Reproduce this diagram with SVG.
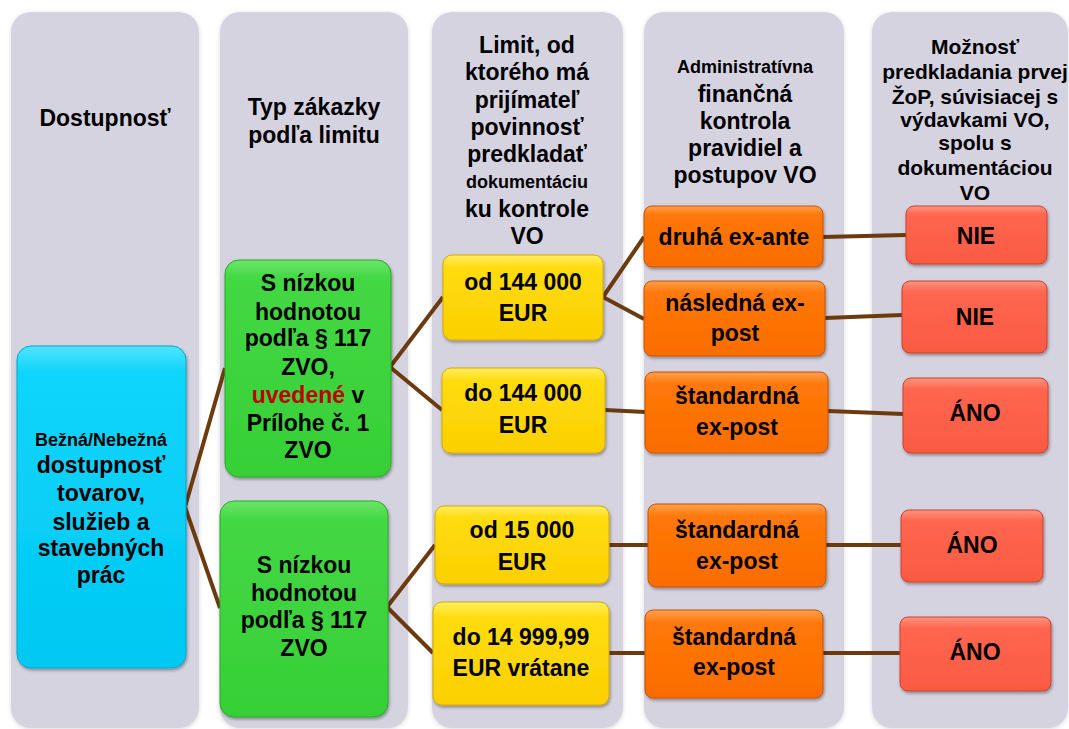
<svg xmlns="http://www.w3.org/2000/svg" width="1069" height="729" viewBox="0 0 1069 729">
<defs>
<filter id="sh" x="-10%" y="-10%" width="125%" height="130%"><feDropShadow dx="1" dy="2" stdDeviation="1.5" flood-color="#000" flood-opacity="0.35"/></filter>
<filter id="csh" x="-5%" y="-5%" width="110%" height="110%"><feDropShadow dx="0" dy="1" stdDeviation="2" flood-color="#000" flood-opacity="0.15"/></filter>
<linearGradient id="gb" x1="0" y1="0" x2="0" y2="1"><stop offset="0" stop-color="#52e4ff"/><stop offset="0.08" stop-color="#0fd5fb"/><stop offset="1" stop-color="#00c8f2"/></linearGradient>
<linearGradient id="gg" x1="0" y1="0" x2="0" y2="1"><stop offset="0" stop-color="#6ce66c"/><stop offset="0.08" stop-color="#44d844"/><stop offset="1" stop-color="#36cf36"/></linearGradient>
<linearGradient id="gy" x1="0" y1="0" x2="0" y2="1"><stop offset="0" stop-color="#ffee60"/><stop offset="0.15" stop-color="#ffdc10"/><stop offset="1" stop-color="#fbd000"/></linearGradient>
<linearGradient id="go" x1="0" y1="0" x2="0" y2="1"><stop offset="0" stop-color="#ffa050"/><stop offset="0.15" stop-color="#ff7808"/><stop offset="1" stop-color="#fa6c00"/></linearGradient>
<linearGradient id="gr" x1="0" y1="0" x2="0" y2="1"><stop offset="0" stop-color="#ff9580"/><stop offset="0.15" stop-color="#ff6650"/><stop offset="1" stop-color="#fa5a42"/></linearGradient>
</defs>
<style>
.col{fill:#d6d3e1}
.n{filter:url(#sh);stroke-width:1}
.b{fill:url(#gb);stroke:#00a8cc}
.g{fill:url(#gg);stroke:#2aa82a}
.y{fill:url(#gy);stroke:#d4aa00}
.o{fill:url(#go);stroke:#c85400}
.r{fill:url(#gr);stroke:#c84430}
.t{font-family:"Liberation Sans",Arial,sans-serif;font-weight:bold;font-size:23px;text-anchor:middle;fill:#000}
.s{font-size:18px}
.m{font-size:21px}
.red{fill:#c00000}
.c{stroke:#6b3a0e;stroke-width:4;fill:none;stroke-linecap:butt}
</style>
<rect width="1069" height="729" fill="#fff"/>
<g id="columns" filter="url(#csh)">
<rect class="col" x="11" y="12" width="188" height="716" rx="20"/>
<rect class="col" x="220" y="12" width="188" height="716" rx="20"/>
<rect class="col" x="432" y="12" width="191" height="716" rx="20"/>
<rect class="col" x="644" y="12" width="200" height="716" rx="20"/>
<rect class="col" x="872" y="12" width="196" height="716" rx="20"/>
</g>
<g id="headers">
<text class="t" x="105" y="126">Dostupnosť</text>
<text class="t" x="314" y="115">Typ zákazky</text>
<text class="t" x="314" y="143">podľa limitu</text>
<text class="t" x="527" y="53">Limit, od</text>
<text class="t" x="527" y="80">ktorého má</text>
<text class="t" x="527" y="108">prijímateľ</text>
<text class="t" x="527" y="135">povinnosť</text>
<text class="t" x="527" y="162">predkladať</text>
<text class="t s" x="527" y="188">dokumentáciu</text>
<text class="t" x="527" y="217">ku kontrole</text>
<text class="t" x="527" y="244">VO</text>
<text class="t s" x="745" y="73">Administratívna</text>
<text class="t" x="745" y="102">finančná</text>
<text class="t" x="745" y="129">kontrola</text>
<text class="t" x="745" y="156">pravidiel a</text>
<text class="t" x="745" y="183">postupov VO</text>
<text class="t m" x="975" y="54">Možnosť</text>
<text class="t m" x="975" y="79">predkladania prvej</text>
<text class="t m" x="975" y="104">ŽoP, súvisiacej s</text>
<text class="t m" x="975" y="127">výdavkami VO,</text>
<text class="t m" x="975" y="150">spolu s</text>
<text class="t m" x="975" y="175">dokumentáciou</text>
<text class="t m" x="975" y="200">VO</text>
</g>
<g id="connectors">
<line class="c" x1="185" y1="507" x2="225" y2="368"/>
<line class="c" x1="185" y1="507" x2="220" y2="608"/>
<line class="c" x1="390" y1="367" x2="443" y2="297"/>
<line class="c" x1="390" y1="367" x2="442" y2="410"/>
<line class="c" x1="387" y1="607" x2="435" y2="545"/>
<line class="c" x1="387" y1="607" x2="433" y2="653"/>
<line class="c" x1="603" y1="297" x2="644" y2="237"/>
<line class="c" x1="603" y1="297" x2="644" y2="319"/>
<line class="c" x1="605" y1="410" x2="645" y2="412"/>
<line class="c" x1="609" y1="545" x2="648" y2="545"/>
<line class="c" x1="609" y1="653" x2="645" y2="653"/>
<line class="c" x1="823" y1="237" x2="906" y2="235"/>
<line class="c" x1="825" y1="318" x2="902" y2="315"/>
<line class="c" x1="828" y1="411" x2="903" y2="414"/>
<line class="c" x1="826" y1="545" x2="901" y2="545"/>
<line class="c" x1="823" y1="653" x2="900" y2="653"/>
</g>
<g id="n-blue"><rect class="n b" x="17" y="346" width="169" height="322" rx="14"/>
<text class="t s" x="101" y="446">Bežná/Nebežná</text>
<text class="t" x="101" y="473">dostupnosť</text>
<text class="t" x="101" y="501">tovarov,</text>
<text class="t" x="101" y="530">služieb a</text>
<text class="t" x="101" y="556">stavebných</text>
<text class="t" x="101" y="583">prác</text></g>
<g id="n-green1"><rect class="n g" x="225" y="260" width="166" height="217" rx="14"/>
<text class="t" x="308" y="291">S nízkou</text>
<text class="t" x="308" y="320">hodnotou</text>
<text class="t" x="308" y="346">podľa § 117</text>
<text class="t" x="308" y="375">ZVO,</text>
<text class="t" x="308" y="403"><tspan class="red">uvedené</tspan> v</text>
<text class="t" x="308" y="431">Prílohe č. 1</text>
<text class="t" x="308" y="458">ZVO</text></g>
<g id="n-green2"><rect class="n g" x="220" y="501" width="168" height="216" rx="14"/>
<text class="t" x="304" y="573">S nízkou</text>
<text class="t" x="304" y="601">hodnotou</text>
<text class="t" x="304" y="628">podľa § 117</text>
<text class="t" x="304" y="656">ZVO</text></g>
<g id="n-y1"><rect class="n y" x="443" y="255" width="160" height="85" rx="9"/>
<text class="t" x="523" y="290">od 144 000</text><text class="t" x="523" y="321">EUR</text></g>
<g id="n-y2"><rect class="n y" x="442" y="368" width="163" height="85" rx="9"/>
<text class="t" x="523" y="401">do 144 000</text><text class="t" x="523" y="433">EUR</text></g>
<g id="n-y3"><rect class="n y" x="435" y="506" width="174" height="78" rx="9"/>
<text class="t" x="522" y="538">od 15 000</text><text class="t" x="522" y="570">EUR</text></g>
<g id="n-y4"><rect class="n y" x="433" y="602" width="176" height="103" rx="9"/>
<text class="t" x="521" y="645">do 14 999,99</text><text class="t" x="521" y="676">EUR vrátane</text></g>
<g id="n-o1"><rect class="n o" x="644" y="206" width="179" height="61" rx="8"/>
<text class="t" x="734" y="245">druhá ex-ante</text></g>
<g id="n-o2"><rect class="n o" x="644" y="281" width="181" height="75" rx="8"/>
<text class="t" x="735" y="311">následná ex-</text><text class="t" x="735" y="341">post</text></g>
<g id="n-o3"><rect class="n o" x="645" y="372" width="183" height="81" rx="8"/>
<text class="t" x="737" y="404">štandardná</text><text class="t" x="737" y="435">ex-post</text></g>
<g id="n-o4"><rect class="n o" x="648" y="504" width="178" height="83" rx="8"/>
<text class="t" x="737" y="538">štandardná</text><text class="t" x="737" y="569">ex-post</text></g>
<g id="n-o5"><rect class="n o" x="645" y="610" width="178" height="88" rx="8"/>
<text class="t" x="734" y="645">štandardná</text><text class="t" x="734" y="675">ex-post</text></g>
<g id="n-r1"><rect class="n r" x="906" y="206" width="141" height="58" rx="8"/>
<text class="t" x="976" y="244">NIE</text></g>
<g id="n-r2"><rect class="n r" x="902" y="281" width="145" height="72" rx="8"/>
<text class="t" x="975" y="325">NIE</text></g>
<g id="n-r3"><rect class="n r" x="903" y="378" width="145" height="75" rx="8"/>
<text class="t" x="975" y="421">ÁNO</text></g>
<g id="n-r4"><rect class="n r" x="901" y="510" width="142" height="72" rx="8"/>
<text class="t" x="972" y="553">ÁNO</text></g>
<g id="n-r5"><rect class="n r" x="900" y="617" width="151" height="74" rx="8"/>
<text class="t" x="975" y="660">ÁNO</text></g>
</svg>
